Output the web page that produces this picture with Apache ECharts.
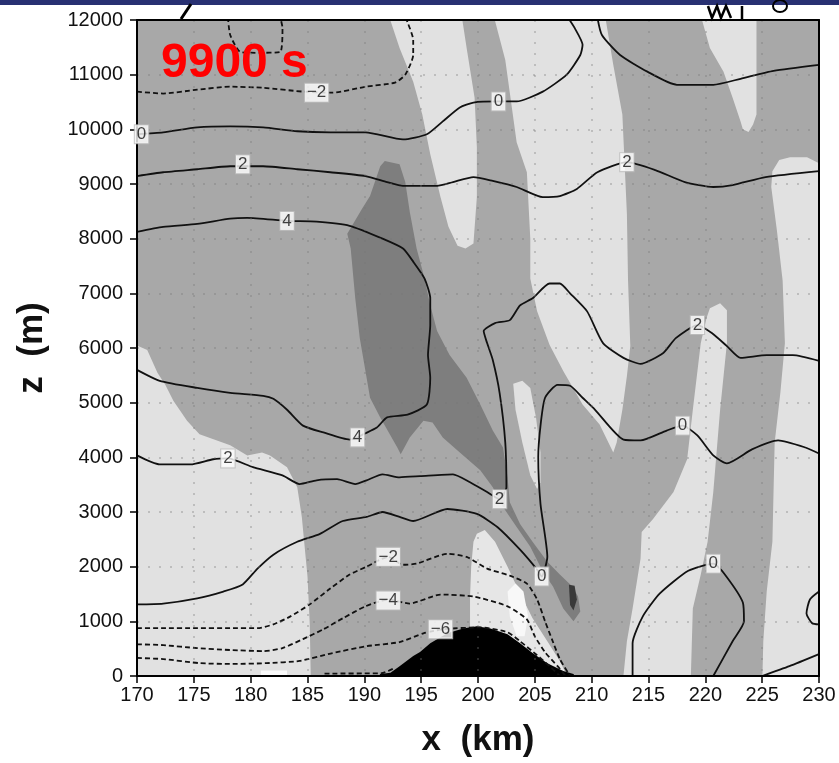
<!DOCTYPE html>
<html>
<head>
<meta charset="utf-8">
<script src="https://cdn.jsdelivr.net/npm/echarts@6/dist/echarts.min.js"></script>
<style>
  html, body { margin: 0; padding: 0; background: #fff; }
  #chart { width: 839px; height: 763px; }
</style>
</head>
<body>
<div id="chart"></div>
<script>
// axes (x in km, z in m)
const xRange = [170, 230];
const zRange = [0, 12000];

// shaded regions, [x, z] outlines
const shadeLightLowerLeft = [[169.5,6090],[170.9,5965],[171.8,5545],[172.5,5325],[173.2,5035],[174.4,4670],[175.5,4420],[178.2,4220],[179.7,4035],[181.0,4090],[181.7,4035],[183.2,3820],[184.1,3455],[184.5,2910],[185.0,1820],[185.2,945],[185.3,-200],[169.5,-200]];
const shadeLightUpperStrip = [[191.8,12300],[193.1,11490],[194.3,10870],[195.1,10270],[195.8,9545],[196.7,8760],[197.4,8220],[198.2,7870],[198.9,7820],[199.6,7910],[199.9,8760],[199.9,9670],[199.7,10580],[199.0,11490],[198.4,12300]];
const shadeLightCentre = [[201.1,12300],[211.0,12300],[211.9,11180],[212.7,10270],[212.9,9360],[213.1,8450],[213.2,7235],[213.4,6035],[213.1,5490],[212.7,4870],[212.2,4270],[211.9,4090],[210.7,4600],[209.2,4965],[207.5,5580],[206.3,6055],[205.2,6670],[204.6,7270],[204.6,8000],[204.3,9215],[203.4,9765],[202.4,11270]];
const shadeLightNarrow = [[203.1,5345],[203.9,5400],[204.6,5270],[205.1,4730],[205.5,4090],[205.5,3545],[205.2,3420],[204.6,3670],[203.9,4270],[203.3,4870]];
const shadeLightTopRight = [[219.3,12300],[220.4,11490],[221.6,11055],[222.4,10580],[223.1,10145],[223.3,10000],[223.8,9950],[224.2,10090],[224.5,10270],[224.5,10870],[224.5,12300]];
const shadeLightRightEdge = [[225.9,9235],[226.5,9440],[227.45,9490],[228.95,9490],[230.5,9330],[230.5,-200],[225.0,-200],[225.1,635],[225.4,1545],[225.9,2455],[226.0,3365],[226.1,4270],[226.6,5180],[227.0,6090],[226.8,7235],[226.3,8145],[225.8,8945]];
const shadeLightLowerRight = [[220.4,6725],[221.3,6820],[221.9,6690],[221.9,6090],[221.3,4870],[220.7,3365],[220.2,2455],[219.6,1855],[218.9,1235],[218.7,-200],[212.7,-200],[213.1,635],[213.6,1235],[214.3,2145],[214.4,2635],[215.4,2870],[217.2,3365],[218.4,3965],[218.9,4870],[219.6,6090],[220.1,6545]];
const shadeLightHill = [[199.6,2455],[199.9,2600],[200.6,2670],[201.5,2455],[202.6,2000],[203.7,1510],[204.8,1055],[206.1,635],[207.2,275],[208.3,-200],[199.3,-200],[199.3,725],[199.3,1455],[199.4,2000]];
const shadeWhiteHill = [[202.6,1545],[203.3,1690],[204.0,1545],[204.4,1090],[204.1,725],[203.4,725],[202.8,1090]];
const shadeWhiteBase = [[180.9,100],[183.2,100],[183.2,-100],[180.9,-100]];
const shadeDark = [[191.4,9325],[191.8,9420],[193.1,9360],[193.6,9035],[194.0,8490],[194.6,7820],[195.3,7270],[195.8,6780],[196.4,6310],[197.5,5870],[199.0,5455],[200.2,4965],[201.3,4490],[202.2,4180],[202.6,3635],[202.8,3180],[203.7,2780],[204.8,2455],[206.1,2090],[207.2,1855],[208.3,1635],[208.8,1455],[209.0,1180],[208.4,1000],[207.5,1235],[206.6,1635],[205.7,1910],[204.6,2365],[203.4,2725],[202.2,3090],[201.3,3455],[200.2,3765],[198.2,4125],[196.9,4365],[196.0,4635],[195.2,4670],[194.0,4365],[193.2,4055],[192.9,4180],[191.4,4730],[190.5,5090],[190.2,5455],[189.6,6180],[189.2,6910],[188.8,7820],[188.5,8090],[189.8,8545],[190.5,8780]];
const shadeDarkCore = [[208.0,1670],[208.5,1650],[208.7,1400],[208.4,1200],[208.1,1300]];
const terrain = [[191.0,-100],[191.4,36],[192.3,60],[193.1,180],[194.3,365],[194.9,440],[195.8,600],[197.3,780],[198.7,870],[199.9,910],[201.1,870],[202.6,765],[203.7,600],[204.8,420],[206.1,235],[207.5,90],[208.4,36],[208.8,-100]];

// contour lines
const contourM2Upper = [[170,10690],[172.3,10655],[175.3,10725],[178.2,10780],[181.1,10760],[184.6,10690],[187.2,10670],[190.1,10780],[192.7,10855],[193.6,11000],[194.3,11360],[194.3,11635],[193.8,11960],[193.6,12050]];
const contourM2Cap = [[178.0,12050],[178.2,11725],[179.1,11415],[180.8,11400],[182.6,11415],[182.8,11855],[182.6,12050]];
const contour0Upper = [[170,9910],[172.3,9945],[175.3,10035],[178.2,10055],[181.1,10035],[184.1,9965],[187.0,9945],[190.1,9945],[193.4,9815],[195.5,9910],[196.9,10145],[198.4,10400],[199.6,10490],[201.8,10510],[203.4,10510],[205.7,10690],[207.8,11000],[209.0,11360],[209.2,11545],[208.5,11855],[207.9,12050]];
const contour0TopRight = [[210.5,12050],[210.9,11725],[212.5,11360],[214.9,11055],[217.5,10815],[220.7,10815],[223.1,10925],[226.0,11070],[230,11180]];
const contour2Upper = [[170,9145],[172.3,9215],[175.3,9270],[178.2,9325],[181.1,9325],[184.1,9270],[187.0,9215],[190.1,9145],[192.0,9035],[193.4,8965],[196.4,8965],[197.8,9035],[199.6,9125],[201.3,9055],[203.4,8945],[205.7,8760],[207.2,8780],[208.7,8910],[210.5,9215],[213.1,9400],[215.6,9255],[218.2,9035],[220.7,8945],[222.4,8980],[225.3,9125],[230,9235]];
const contour4 = [[170,8125],[172.3,8215],[175.3,8270],[178.2,8365],[179.7,8380],[183.2,8325],[185.8,8310],[188.7,8235],[191.6,8000],[193.4,7820],[194.3,7580],[195.3,7270],[195.8,6910],[195.8,6420],[195.6,5870],[195.8,5455],[195.5,4965],[193.8,4780],[192.0,4730],[191.1,4545],[189.9,4420],[189.4,4365],[188.7,4325],[186.4,4455],[184.6,4580],[183.2,4870],[182.0,5070],[181.1,5125],[178.2,5180],[175.3,5270],[172.0,5400],[170,5600]];
const contour2Lower = [[170,4035],[172.0,3870],[174.7,3870],[176.7,3965],[178.0,3980],[180.2,3820],[182.8,3670],[184.3,3510],[185.8,3580],[187.6,3600],[189.2,3510],[190.2,3580],[191.6,3690],[193.1,3635],[194.9,3655],[197.8,3690],[199.3,3545],[200.8,3365],[201.9,3235],[202.5,3455],[202.4,4270],[201.9,5180],[201.3,5780],[200.8,6090],[200.5,6310],[201.5,6455],[202.8,6510],[203.7,6780],[204.8,6910],[206.3,7180],[207.2,7180],[208.1,7000],[209.6,6670],[211.0,6090],[212.8,5820],[214.3,5710],[216.3,5910],[217.4,6180],[219.3,6420],[220.6,6270],[221.9,6035],[223.1,5820],[225.4,5870],[227.7,5870],[230,5765]];
const contour0Lower = [[170,1310],[172.3,1325],[175.3,1420],[177.6,1545],[179.3,1675],[180.6,1965],[182.0,2220],[184.1,2455],[186.1,2600],[188.1,2835],[190.2,2910],[191.6,3000],[193.1,2910],[194.3,2835],[197.3,3055],[199.9,2965],[201.7,2725],[203.7,2310],[205.2,1945],[205.6,1820],[206.1,2180],[205.5,3145],[205.3,4000],[205.5,4580],[205.9,5090],[207.0,5325],[208.1,5310],[209.2,5090],[210.3,4870],[212.8,4325],[214.3,4310],[216.6,4490],[218.0,4580],[219.3,4400],[220.7,4035],[221.9,3890],[224.1,4145],[226.4,4310],[228.8,4180],[230,4070]];
const contour0Loop = [[213.6,0],[213.6,600],[214.5,1090],[216.0,1510],[218.5,1925],[220.7,2055],[221.6,1890],[223.3,1345],[223.4,1000],[222.4,635],[220.7,0]];
const contour0Edge = [[230,1545],[229.2,1400],[228.9,1145],[229.4,965],[230,945]];
const contour0Corner = [[225.0,0],[227.4,180],[230,400]];
const contourM2Lower = [[170,875],[172.3,875],[175.3,875],[178.2,875],[180.6,875],[182.0,945],[183.5,1090],[185.2,1310],[187.0,1600],[188.7,1855],[190.2,2000],[192.1,2180],[193.4,2035],[194.6,2055],[197.3,2235],[199.0,2180],[200.8,1965],[202.8,1835],[204.3,1690],[205.2,1400],[205.9,1000],[206.5,675],[207.2,310],[208.1,0]];
const contourM4 = [[170,580],[172.3,565],[175.3,510],[178.2,475],[181.1,455],[182.8,510],[184.6,675],[186.4,855],[188.1,1055],[190.1,1275],[192.1,1400],[194.0,1325],[196.7,1490],[199.6,1455],[202.6,1275],[204.3,1035],[205.0,725],[205.9,435],[207.0,180],[207.7,0]];
const contourM6 = [[170,330],[172.3,310],[175.5,235],[178.4,220],[181.4,235],[184.3,275],[187.2,420],[190.2,545],[193.1,620],[195.2,780],[196.9,855],[200.2,890],[202.6,800],[203.7,635],[205.2,380],[206.3,180],[207.2,0]];
const contourM8 = [[186.5,45],[191.5,50],[192.5,130]];

// contour labels [x, z, text]
const contourLabels = [
  [185.8, 10670, '−2'], [170.4, 9910, '0'], [201.8, 10510, '0'],
  [179.3, 9360, '2'], [213.1, 9400, '2'], [183.2, 8325, '4'], [189.4, 4365, '4'],
  [178.0, 3980, '2'], [201.9, 3235, '2'], [219.3, 6420, '2'],
  [205.6, 1820, '0'], [218.0, 4580, '0'], [220.7, 2055, '0'],
  [192.1, 2180, '−2'], [192.1, 1380, '−4'], [196.7, 855, '−6']
];

const chart = echarts.init(document.getElementById('chart'));
const font = 'Liberation Sans, Arial, Helvetica, sans-serif';

function shade(points, color, z) {
  return {
    type: 'custom',
    data: points,
    z: z,
    silent: true,
    clip: true,
    renderItem: function (params, api) {
      if (params.dataIndex !== 0) return null;
      return {
        type: 'polygon',
        shape: { points: points.map(function (p) { return api.coord(p); }) },
        style: { fill: color }
      };
    }
  };
}

function contour(points, dashed) {
  return {
    type: 'line',
    data: points,
    symbol: 'none',
    smooth: 0.2,
    z: 8,
    silent: true,
    lineStyle: { color: '#111', width: 1.8, type: dashed ? [5, 3] : 'solid' }
  };
}

const light = '#e1e1e1';
const series = [
  shade(shadeLightLowerLeft, light, 2),
  shade(shadeLightUpperStrip, light, 2),
  shade(shadeLightCentre, light, 2),
  shade(shadeLightNarrow, light, 2),
  shade(shadeLightTopRight, light, 2),
  shade(shadeLightRightEdge, light, 2),
  shade(shadeLightLowerRight, light, 2),
  shade(shadeLightHill, '#e6e6e6', 2),
  shade(shadeWhiteHill, '#f8f8f8', 3),
  shade(shadeWhiteBase, '#fafafa', 3),
  shade(shadeDark, '#7e7e7e', 3),
  shade(shadeDarkCore, '#3a3a3a', 4),
  shade(terrain, '#000', 6),
  contour(contourM2Upper, true),
  contour(contourM2Cap, true),
  contour(contour0Upper, false),
  contour(contour0TopRight, false),
  contour(contour2Upper, false),
  contour(contour4, false),
  contour(contour2Lower, false),
  contour(contour0Lower, false),
  contour(contour0Loop, false),
  contour(contour0Edge, false),
  contour(contour0Corner, false),
  contour(contourM2Lower, true),
  contour(contourM4, true),
  contour(contourM6, true),
  contour(contourM8, true),
  {
    type: 'scatter',
    data: contourLabels,
    symbolSize: 0,
    z: 20,
    silent: true,
    label: {
      show: true,
      position: 'inside',
      formatter: function (p) { return p.value[2]; },
      fontFamily: font,
      fontSize: 17,
      color: '#111',
      backgroundColor: '#fff',
      borderColor: '#bbb',
      borderWidth: 1,
      padding: [1, 2, 0, 2]
    }
  }
];

const dotted = { show: true, lineStyle: { color: 'rgba(120,120,120,0.45)', width: 1.5, type: [2, 9] } };

const option = {
  animation: false,
  backgroundColor: '#fff',
  title: {
    text: '9900 s',
    left: 161,
    top: 40,
    padding: 0,
    z: 30,
    textStyle: { color: '#ff0000', fontSize: 48, fontWeight: 'bold', fontFamily: font }
  },
  grid: {
    left: 137, top: 20, width: 682, height: 660,
    show: true, backgroundColor: '#a8a8a8', borderWidth: 0
  },
  xAxis: [{
    type: 'value', min: xRange[0], max: xRange[1], interval: 5, position: 'bottom', z: 10,
    name: 'x  (km)', nameLocation: 'middle', nameGap: 47,
    nameTextStyle: { fontFamily: font, fontSize: 35, fontWeight: 'bold', color: '#111' },
    axisLine: { show: true, lineStyle: { color: '#000', width: 2 } },
    axisTick: { show: true, inside: false, length: 7, lineStyle: { color: '#000', width: 1.5 } },
    axisLabel: { fontFamily: font, fontSize: 20, color: '#111', margin: 9 },
    splitLine: { show: false }
  }, {
    type: 'value', min: xRange[0], max: xRange[1], interval: 5, position: 'top', z: 9,
    axisLine: { show: true, onZero: false, lineStyle: { color: '#000', width: 2 } },
    axisTick: { show: false }, axisLabel: { show: false },
    splitLine: dotted
  }],
  yAxis: [{
    type: 'value', min: zRange[0], max: zRange[1], interval: 1000, position: 'left', z: 10,
    name: 'z  (m)', nameLocation: 'middle', nameGap: 87, nameRotate: 90,
    nameTextStyle: { fontFamily: font, fontSize: 35, fontWeight: 'bold', color: '#111' },
    axisLine: { show: true, lineStyle: { color: '#000', width: 2 } },
    axisTick: { show: true, inside: false, length: 7, lineStyle: { color: '#000', width: 1.5 } },
    axisLabel: { fontFamily: font, fontSize: 20, color: '#111', margin: 14, formatter: function (v) { return String(v); } },
    splitLine: { show: false }
  }, {
    type: 'value', min: zRange[0], max: zRange[1], interval: 1000, position: 'right', z: 9,
    axisLine: { show: true, onZero: false, lineStyle: { color: '#000', width: 2 } },
    axisTick: { show: false }, axisLabel: { show: false },
    splitLine: dotted
  }],
  graphic: [
    { type: 'rect', left: 0, top: 0, shape: { width: 839, height: 5 }, style: { fill: '#283072' }, z: 50 },
    { type: 'line', shape: { x1: 181, y1: 19, x2: 191, y2: 4 }, style: { stroke: '#000', lineWidth: 3 }, z: 50 },
    { type: 'polyline', shape: { points: [[708, 6], [712, 18], [717, 6], [721, 18], [726, 6], [731, 18]] }, style: { stroke: '#000', lineWidth: 2.5, fill: null }, z: 50 },
    { type: 'line', shape: { x1: 742, y1: 6, x2: 742, y2: 20 }, style: { stroke: '#000', lineWidth: 2.5 }, z: 50 },
    { type: 'ellipse', shape: { cx: 780, cy: 6, rx: 7, ry: 6 }, style: { stroke: '#000', lineWidth: 2, fill: null }, z: 50 }
  ],
  series: series
};

chart.setOption(option);
</script>
</body>
</html>
